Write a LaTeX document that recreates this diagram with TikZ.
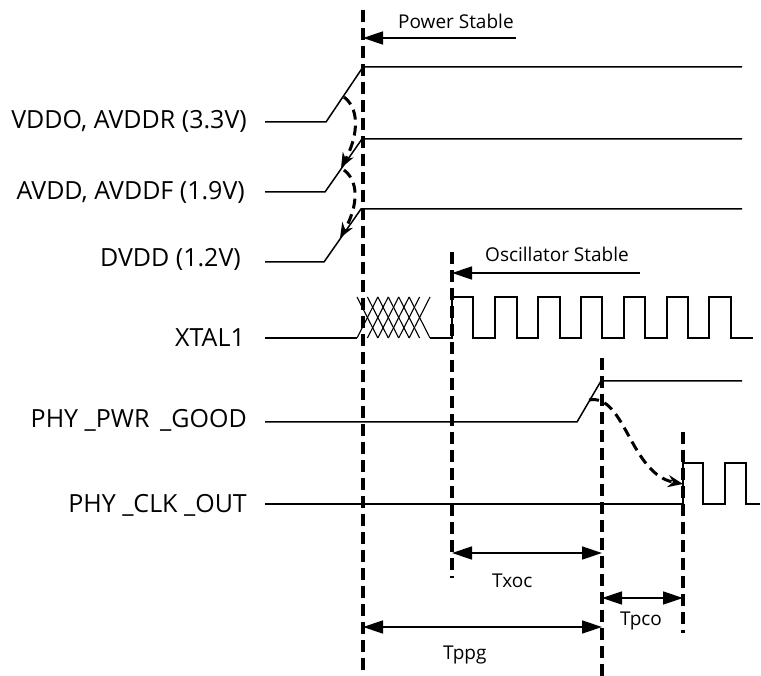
\documentclass[tikz,border=0pt]{standalone}
\usepackage{fontspec}
\setmainfont{Open Sans}
\usetikzlibrary{arrows.meta}
\begin{document}
\begin{tikzpicture}[x=1pt,y=-1pt,
  sig/.style={line width=1.5pt, line join=miter},
  vdash/.style={line width=3.4pt, dash pattern=on 12pt off 6pt},
  cdash/.style={line width=3pt, dash pattern=on 10pt off 6pt, -{Stealth[length=15pt,width=12pt]}},
  dimarr/.style={line width=1.4pt, {Triangle[length=20pt,width=13pt]}-{Triangle[length=20pt,width=13pt]}},
  marker/.style={line width=1.4pt, -{Triangle[length=20pt,width=13pt]}},
  biglab/.style={font=\fontsize{25}{30}\selectfont, inner sep=0pt, anchor=base east},
  smlab/.style={font=\fontsize{19}{23}\selectfont, inner sep=0pt, anchor=base west}]
\useasboundingbox (0,0) rectangle (761,676);

% ---- dashed time markers
\coordinate (d1t) at (363,10);  \coordinate (d1b) at (363,676);
\coordinate (d2t) at (452,252); \coordinate (d2b) at (452,578);
\coordinate (d3t) at (602,358); \coordinate (d3b) at (602,676);
\coordinate (d4t) at (683,432); \coordinate (d4b) at (683,633);
\draw[vdash] (d1t) -- (d1b);
\draw[vdash] (d2t) -- (d2b);
\draw[vdash] (d3t) -- (d3b);
\draw[vdash] (d4t) -- (d4b);

% ---- labels
\node[biglab] (lvddo) at (247,129) {VDDO, AVDDR (3.3V)};
\node[biglab] (lavdd) at (245,200) {AVDD, AVDDF (1.9V)};
\node[biglab] (ldvdd) at (241,267) {DVDD (1.2V)};
\node[biglab] (lxtal) at (245,347) {XTAL1};
\node[biglab] (lpwr)  at (247,428) {PHY \_PWR \,\_GOOD};
\node[biglab] (lclk)  at (247,512) {PHY \_CLK \_OUT};

% ---- power rails
\draw[sig] (265,122) -- (326,122) -- (363,67) -- (742,67);
\draw[sig] (265,192) -- (325,192) -- (362,139) -- (742,139);
\draw[sig] (265,262) -- (324,262) -- (361,209) -- (742,209);

% ---- XTAL1
\draw[sig] (265,338) -- (357,338);
\foreach \k in {0,...,5}{
  \draw[line width=1.1pt] ({357+\k*10.43},338) -- ({357+\k*10.43+20.86},297);
  \draw[line width=1.1pt] ({357+\k*10.43},297) -- ({357+\k*10.43+20.86},338);
}
\draw[sig] (430,338) -- (452,338)
  -- (452,297) -- (473,297) -- (473,338) -- (495,338)
  -- (495,297) -- (517,297) -- (517,338) -- (538,338)
  -- (538,297) -- (560,297) -- (560,338) -- (581,338)
  -- (581,297) -- (602,297) -- (602,338) -- (624,338)
  -- (624,297) -- (645,297) -- (645,338) -- (667,338)
  -- (667,297) -- (688,297) -- (688,338) -- (709,338)
  -- (709,297) -- (731,297) -- (731,338) -- (753,338);

% ---- PHY_PWR_GOOD
\draw[sig] (265,422) -- (577,422) -- (601,381) -- (742,381);

% ---- PHY_CLK_OUT
\draw[sig] (265,504) -- (683,504) -- (683,463) -- (703,463) -- (703,504)
  -- (725,504) -- (725,463) -- (746,463) -- (746,504) -- (760,504);

% ---- stable markers
\coordinate (psA) at (516,38); \coordinate (psB) at (363,38);
\draw[marker] (psA) -- (psB);
\node[smlab] (ps) at (398,29) {Power Stable};
\coordinate (osA) at (640,273); \coordinate (osB) at (452,273);
\draw[marker] (osA) -- (osB);
\node[smlab] (os) at (485,262) {Oscillator Stable};

% ---- dependency arrows
\coordinate (c1s) at (344,97);  \coordinate (c1e) at (341,168);
\coordinate (c2s) at (344,170); \coordinate (c2e) at (340,238);
\coordinate (c3s) at (589,400); \coordinate (c3e) at (683,484);
\draw[cdash] (c1s) .. controls (362,111) and (356,140) .. (c1e);
\draw[cdash] (c2s) .. controls (362,184) and (355,212) .. (c2e);
\draw[cdash] (c3s) .. controls (625,393) and (630,474) .. (c3e);

% ---- timing dimensions
\coordinate (xa) at (452,553); \coordinate (xb) at (602,553);
\draw[dimarr] (xa) -- (xb);
\node[smlab] (txoc) at (492,587) {Txoc};
\coordinate (pa) at (602,598); \coordinate (pb) at (683,598);
\draw[dimarr] (pa) -- (pb);
\node[smlab] (tpco) at (620,625) {Tpco};
\coordinate (ga) at (363,627); \coordinate (gb) at (602,627);
\draw[dimarr] (ga) -- (gb);
\node[smlab] (tppg) at (443,659) {Tppg};
\end{tikzpicture}
\end{document}
